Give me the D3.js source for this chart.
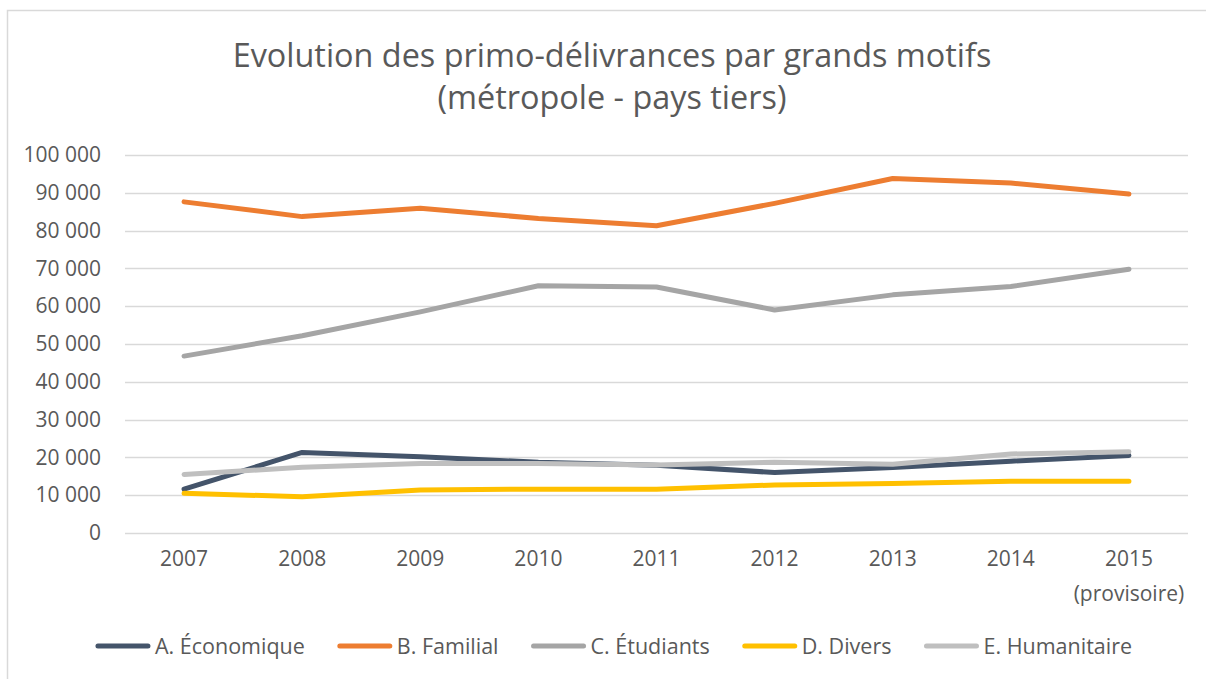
<script src="https://d3js.org/d3.v7.min.js"></script>
<html>
<head>
<style>
  body { margin: 0; background: #fff; }
  text { font-family: "Open Sans", Lato, sans-serif; fill: #595959; }
</style>
</head>
<body>
<div id="chart"></div>
<script>
    // data
    const years = ["2007", "2008", "2009", "2010", "2011", "2012", "2013", "2014", "2015"];
    const economique = [11600, 21300, 20200, 18700, 17900, 16000, 17300, 19000, 20500];
    const familial = [87600, 83700, 85900, 83200, 81300, 87200, 93800, 92600, 89700];
    const etudiants = [46800, 52200, 58500, 65400, 65100, 59000, 63000, 65200, 69800];
    const divers = [10500, 9600, 11400, 11600, 11600, 12700, 13100, 13700, 13700];
    const humanitaire = [15500, 17400, 18400, 18400, 18000, 18700, 18200, 20900, 21500];
    const seriesNames = ["A. Économique", "B. Familial", "C. Étudiants", "D. Divers", "E. Humanitaire"];
    const seriesColors = ["#44546A", "#ED7D31", "#A5A5A5", "#FFC000", "#BFBFBF"];
    const yTicks = [0, 10000, 20000, 30000, 40000, 50000, 60000, 70000, 80000, 90000, 100000];

    const W = 1206, H = 679;
    const plot = {left: 125, right: 1188, top: 155, bottom: 533};

    const svg = d3.select("#chart").append("svg")
        .attr("width", W).attr("height", H);

    // outer frame (only top and left edges visible in the original)
    svg.append("path")
        .attr("d", `M7.5,${H} L7.5,10.5 L${W},10.5`)
        .attr("fill", "none").attr("stroke", "#D9D9D9").attr("stroke-width", 1.5);

    // title
    const title = svg.append("text")
        .attr("text-anchor", "middle")
        .style("font-size", "32.4px");
    title.append("tspan").attr("x", 612).attr("y", 67).text("Evolution des primo-délivrances par grands motifs");
    title.append("tspan").attr("x", 612).attr("y", 109).text("(métropole - pays tiers)");

    const x = d3.scaleBand().domain(years).range([plot.left, plot.right]);
    const y = d3.scaleLinear().domain([0, 100000]).range([plot.bottom, plot.top]);

    const fmt = v => d3.format(",")(v).replace(/,/g, " ");

    // gridlines
    svg.append("g").selectAll("line").data(yTicks).join("line")
        .attr("x1", plot.left).attr("x2", plot.right)
        .attr("y1", d => Math.round(y(d)) + 0.5).attr("y2", d => Math.round(y(d)) + 0.5)
        .attr("stroke", "#D9D9D9").attr("stroke-width", 1.5);

    // y axis labels
    const yAxis = svg.append("g")
        .attr("transform", "translate(101,0)")
        .call(d3.axisLeft(y).tickValues(yTicks).tickFormat(fmt).tickSize(0).tickPadding(0));
    yAxis.select(".domain").remove();
    yAxis.selectAll("text").style("font-size", "21px").attr("fill", "#595959").attr("font-family", null);

    // x axis labels
    const xAxis = svg.append("g")
        .attr("transform", `translate(0,${plot.bottom + 18})`)
        .call(d3.axisBottom(x).tickSize(0).tickPadding(0));
    xAxis.select(".domain").remove();
    xAxis.selectAll("text").style("font-size", "21px").attr("fill", "#595959").attr("font-family", null);
    svg.append("text")
        .attr("x", x("2015") + x.bandwidth() / 2).attr("y", 601)
        .attr("text-anchor", "middle").style("font-size", "21px")
        .text("(provisoire)");

    // lines
    const seriesData = [economique, familial, etudiants, divers, humanitaire];
    const line = d3.line()
        .x((d, i) => x(years[i]) + x.bandwidth() / 2)
        .y(d => y(d));
    const drawOrder = [0, 1, 2, 3, 4];
    svg.append("g").selectAll("path").data(drawOrder).join("path")
        .attr("d", i => line(seriesData[i]))
        .attr("fill", "none")
        .attr("stroke", i => seriesColors[i])
        .attr("stroke-width", 5)
        .attr("stroke-linejoin", "round")
        .attr("stroke-linecap", "round");

    // legend
    const legend = svg.append("g");
    const items = legend.selectAll("g").data(seriesNames).join("g");
    items.append("line")
        .attr("x1", 0).attr("x2", 50).attr("y1", 0).attr("y2", 0)
        .attr("stroke", (d, i) => seriesColors[i])
        .attr("stroke-width", 5).attr("stroke-linecap", "round");
    items.append("text")
        .attr("x", 57).attr("y", 7.5)
        .style("font-size", "21.5px")
        .text(d => d);
    let offset = 0;
    items.each(function () {
        const w = 57 + d3.select(this).select("text").node().getComputedTextLength();
        d3.select(this).attr("transform", `translate(${offset},0)`);
        offset += w + 35;
    });
    const total = offset - 35;
    legend.attr("transform", `translate(${615 - total / 2},646)`);
</script>
</body>
</html>
